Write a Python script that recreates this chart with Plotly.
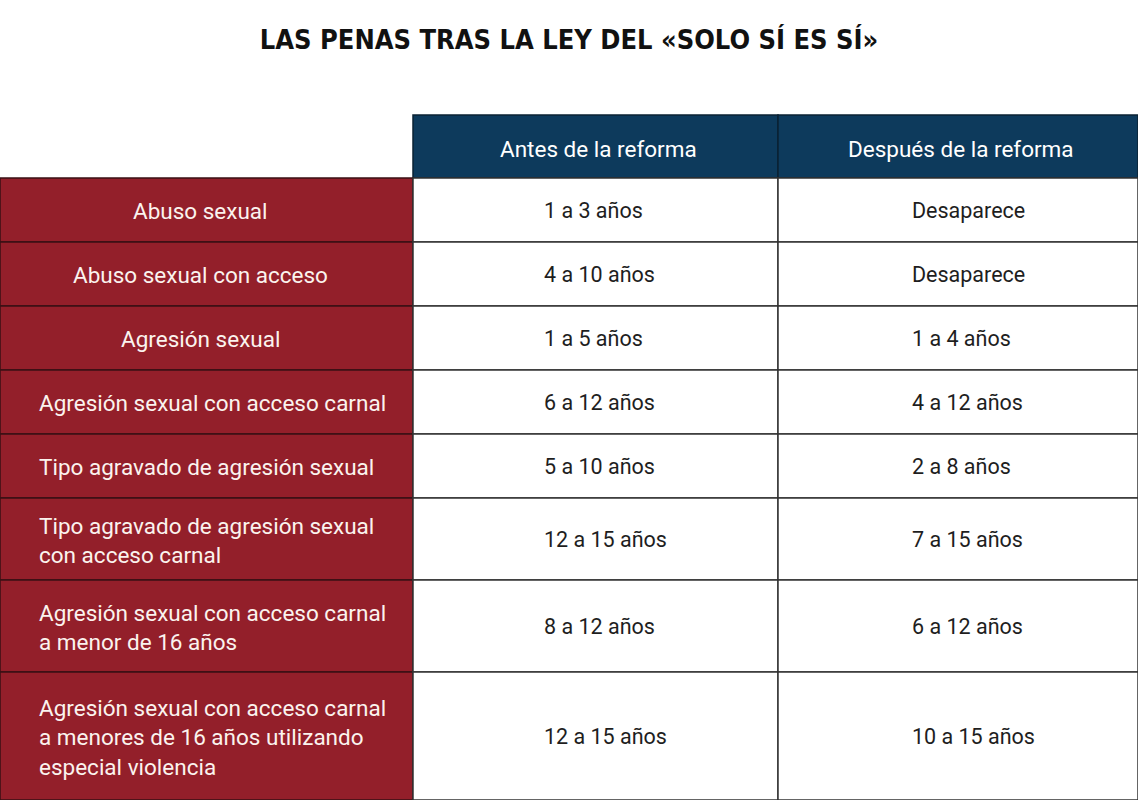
import plotly.graph_objects as go

# ---------------- data ----------------
title = "LAS PENAS TRAS LA LEY DEL «SOLO SÍ ES SÍ»"
headers = ["Antes de la reforma", "Después de la reforma"]
delitos = [
    "Abuso sexual",
    "Abuso sexual con acceso",
    "Agresión sexual",
    "Agresión sexual con acceso carnal",
    "Tipo agravado de agresión sexual",
    "Tipo agravado de agresión sexual<br>con acceso carnal",
    "Agresión sexual con acceso carnal<br>a menor de 16 años",
    "Agresión sexual con acceso carnal<br>a menores de 16 años utilizando<br>especial violencia",
]
antes = ["1 a 3 años", "4 a 10 años", "1 a 5 años", "6 a 12 años", "5 a 10 años",
         "12 a 15 años", "8 a 12 años", "12 a 15 años"]
despues = ["Desaparece", "Desaparece", "1 a 4 años", "4 a 12 años", "2 a 8 años",
           "7 a 15 años", "6 a 12 años", "10 a 15 años"]

# ---------------- layout geometry ----------------
W, H = 1138, 800
col_edges = [0, 413, 778, 1138]
table_top = 115
header_h = 63
row_h = [64, 64, 64, 64, 64, 82, 92, 128]

RED = "#931f2a"
BLUE = "#0d3a5c"
FONT = "Roboto"

# row boundaries
tops = []
y = table_top + header_h
for h in row_h:
    tops.append(y)
    y += h
centers = [t + h / 2 for t, h in zip(tops, row_h)]

fig = go.Figure()

# header (blue) cells
fig.add_trace(go.Bar(
    orientation="h",
    y=[table_top + header_h / 2] * 2,
    width=[header_h] * 2,
    base=[col_edges[1], col_edges[2]],
    x=[col_edges[2] - col_edges[1], col_edges[3] - col_edges[2]],
    marker=dict(color=BLUE, line=dict(color="#0a2233", width=1.5)),
    hoverinfo="skip", showlegend=False,
))

# red category column
fig.add_trace(go.Bar(
    orientation="h",
    y=centers, width=row_h,
    base=[col_edges[0]] * len(delitos),
    x=[col_edges[1] - col_edges[0]] * len(delitos),
    marker=dict(color=RED, line=dict(color="#3a1014", width=1.5)),
    hoverinfo="skip", showlegend=False,
))

# white value cells
for j, vals in enumerate([antes, despues]):
    fig.add_trace(go.Bar(
        orientation="h",
        y=centers, width=row_h,
        base=[col_edges[j + 1]] * len(vals),
        x=[col_edges[j + 2] - col_edges[j + 1]] * len(vals),
        marker=dict(color="white", line=dict(color="#333333", width=1.5)),
        hoverinfo="skip", showlegend=False,
    ))

annotations = []
# header texts
for j, htxt in enumerate(headers):
    annotations.append(dict(
        x=(col_edges[j + 1] + col_edges[j + 2]) / 2 + 3, y=table_top + header_h / 2 + 2,
        xref="x", yref="y", text=htxt, showarrow=False,
        font=dict(family=FONT, size=22.5, color="white"),
        xanchor="center", yanchor="middle"))

# category texts
for i, d in enumerate(delitos):
    multiline = i >= 3
    annotations.append(dict(
        x=37 if multiline else (col_edges[0] + col_edges[1]) / 2 - 6,
        y=centers[i] + 1, xref="x", yref="y", text=d, showarrow=False,
        font=dict(family=FONT, size=22.5, color="#fbf3ee"),
        xanchor="left" if multiline else "center", yanchor="middle",
        align="left"))

# value texts
for j, vals in enumerate([antes, despues]):
    xs = [542, 910][j]
    for i, v in enumerate(vals):
        annotations.append(dict(
            x=xs, y=centers[i], xref="x", yref="y", text=v, showarrow=False,
            font=dict(family=FONT, size=21.5, color="#1e1e1e"),
            xanchor="left", yanchor="middle"))

fig.update_layout(
    width=W, height=H,
    margin=dict(l=0, r=0, t=0, b=0),
    paper_bgcolor="white", plot_bgcolor="white",
    barmode="overlay", bargap=0,
    xaxis=dict(range=[0, W], visible=False, fixedrange=True),
    yaxis=dict(range=[H, 0], visible=False, fixedrange=True),
    title=dict(text=f"<b>{title}</b>", x=0.5, xanchor="center",
               y=1 - 40 / H, yanchor="middle", yref="container",
               font=dict(family="DejaVu Sans Condensed", size=27, color="#111111")),
    annotations=annotations,
)

fig.write_html("out.html",
               config={"displayModeBar": False, "staticPlot": True},
               post_script="document.body.style.margin='0';")
